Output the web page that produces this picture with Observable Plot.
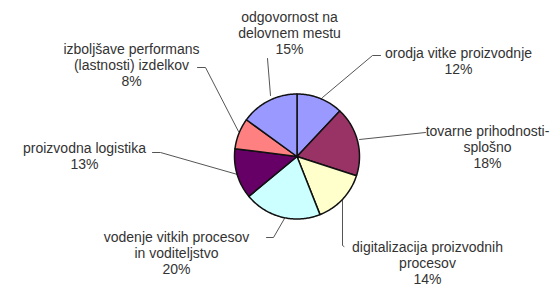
<!DOCTYPE html>
<html>
<head>
<meta charset="utf-8">
<script src="https://cdn.jsdelivr.net/npm/d3@7"></script>
<script src="https://cdn.jsdelivr.net/npm/@observablehq/plot@0.6"></script>
<style>
  html, body { margin: 0; padding: 0; background: #fff; }
  #chart svg { display: block; }
</style>
</head>
<body>
<div id="chart"></div>
<script>
// ---- data ----
const categories = [
  "orodja vitke proizvodnje",
  "tovarne prihodnosti-\nsplošno",
  "digitalizacija proizvodnih\nprocesov",
  "vodenje vitkih procesov\nin voditeljstvo",
  "proizvodna logistika",
  "izboljšave performans\n(lastnosti) izdelkov",
  "odgovornost na\ndelovnem mestu"
];
const values = [12, 18, 14, 20, 13, 8, 15];
const colors = ["#9999FF", "#993366", "#FFFFCC", "#CCFFFF", "#660066", "#FF8080", "#9999FF"];

// ---- layout (in pie-radius units, centre = 0,0) ----
const labelPos = [
  [2.584, 1.536],
  [3.048, 0.16],
  [2.088, -1.704],
  [-1.928, -1.536],
  [-3.4, 0.016],
  [-2.648, 1.472],
  [-0.12, 1.984]
];
const leaderPts = [
  [[1.336, 1.616], [1.208, 1.616], [0.408, 0.944]],
  [[2.056, 0.384], [1.0, 0.272]],
  [[0.752, -1.44], [0.728, -1.424], [0.728, -0.704]],
  [[-0.488, -1.296], [-0.376, -1.296], [-0.2, -0.992]],
  [[-2.312, 0.064], [-2.184, 0.064], [-0.952, -0.288]],
  [[-1.592, 1.424], [-1.464, 1.424], [-0.936, 0.4]],
  [[-0.472, 1.568], [-0.424, 0.976]]
];

// ---- build pie polygons ----
const total = d3.sum(values);
const slices = [];
let acc = 0;
values.forEach((v, i) => {
  const a0 = acc / total * 2 * Math.PI;
  acc += v;
  const a1 = acc / total * 2 * Math.PI;
  const n = Math.max(2, Math.ceil((a1 - a0) / (Math.PI / 180)));
  slices.push({k: i, x: 0, y: 0, color: colors[i]});
  for (let j = 0; j <= n; j++) {
    const a = a0 + (a1 - a0) * j / n;
    slices.push({k: i, x: Math.sin(a), y: Math.cos(a), color: colors[i]});
  }
  slices.push({k: i, x: 0, y: 0, color: colors[i]});
});

const labelData = categories.map((c, i) => ({
  text: c + "\n" + values[i] + "%",
  x: labelPos[i][0],
  y: labelPos[i][1]
}));
const leaders = [];
leaderPts.forEach((pts, i) => pts.forEach(p => leaders.push({k: i, x: p[0], y: p[1]})));

const W = 559, H = 289, R = 62.5, CX = 296.5, CY = 156;

const chart = Plot.plot({
  width: W,
  height: H,
  margin: 0,
  x: {type: "linear", domain: [-CX / R, (W - CX) / R], range: [0, W], axis: null},
  y: {type: "linear", domain: [-(H - CY) / R, CY / R], range: [H, 0], axis: null},
  style: {fontFamily: "'Liberation Sans', Arial, sans-serif", background: "#fff"},
  marks: [
    Plot.line(leaders, {x: "x", y: "y", z: "k", stroke: "#555", strokeWidth: 1}),
    Plot.line(slices, {x: "x", y: "y", z: "k", fill: "color", stroke: "#111", strokeWidth: 1.5, strokeLinejoin: "round", curve: "linear"}),
    Plot.text(labelData, {x: "x", y: "y", text: "text", fontSize: 14, lineHeight: 1.15, fill: "#333", textAnchor: "middle", lineAnchor: "middle"})
  ]
});
document.getElementById("chart").appendChild(chart);
</script>
</body>
</html>
